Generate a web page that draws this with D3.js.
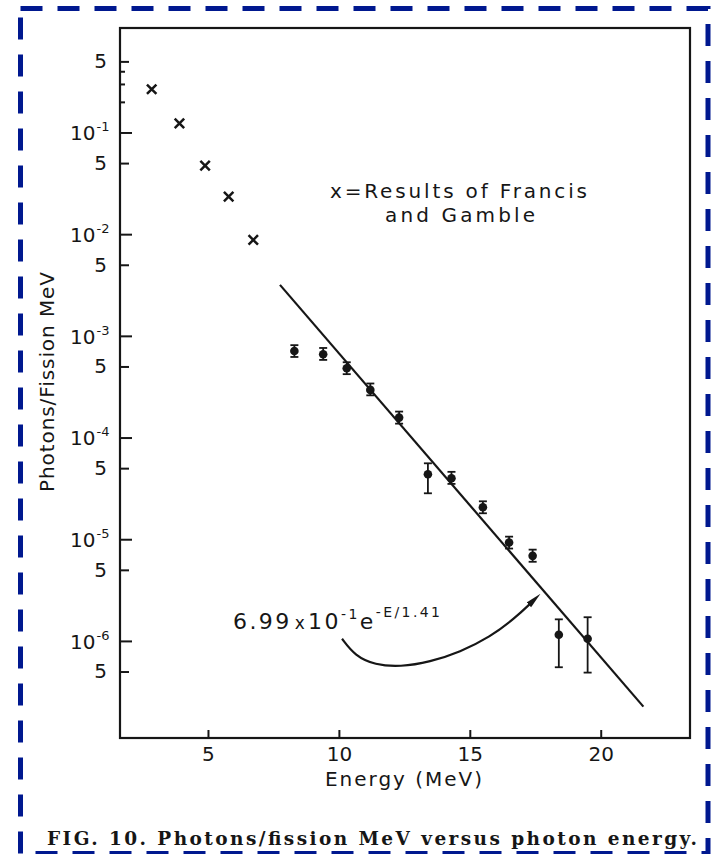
<!DOCTYPE html>
<html>
<head>
<meta charset="utf-8">
<script src="https://cdn.jsdelivr.net/npm/d3@7"></script>
<style>
  html, body { margin: 0; padding: 0; background: #fff; }
  svg { display: block; }
  text { font-family: "DejaVu Sans", sans-serif; fill: #161616; }
</style>
</head>
<body>
<svg id="chart" width="711" height="854"></svg>
<script>
// ---------- data ----------
const crossE = [2.85, 3.91, 4.89, 5.79, 6.73];
const crossV = [0.266, 0.123, 0.0472, 0.0234, 0.00877];

const dotE  = [8.3, 9.4, 10.3, 11.2, 12.3, 13.4, 14.3, 15.5, 16.5, 17.4, 18.4, 19.5];
const dotV  = [7.1e-4, 6.6e-4, 4.8e-4, 2.94e-4, 1.57e-4, 4.36e-5, 3.98e-5, 2.06e-5, 9.27e-6, 6.86e-6, 1.15e-6, 1.05e-6];
const dotHi = [8.1e-4, 7.6e-4, 5.5e-4, 3.4e-4, 1.8e-4, 5.58e-5, 4.6e-5, 2.36e-5, 1.06e-5, 7.9e-6, 1.63e-6, 1.71e-6];
const dotLo = [6.2e-4, 5.8e-4, 4.2e-4, 2.6e-4, 1.37e-4, 2.83e-5, 3.5e-5, 1.8e-5, 8.1e-6, 6.0e-6, 5.51e-7, 4.88e-7];

const fitE = [7.75, 21.63];
const fitV = [3.17e-3, 2.26e-7];

// annotation arrow path (data coordinates)
const arrowE = [10.12, 10.62, 11.38, 12.34, 13.48, 14.63, 15.77, 16.73, 17.34];
const arrowV = [1.05e-6, 7.11e-7, 5.81e-7, 5.55e-7, 6.21e-7, 7.79e-7, 1.09e-6, 1.68e-6, 2.37e-6];

const xTicks = [5, 10, 15, 20];
const xTickLabels = ["5", "10", "15", "20"];
const yMajor = [1e-1, 1e-2, 1e-3, 1e-4, 1e-5, 1e-6];
const yMajorExp = ["-1", "-2", "-3", "-4", "-5", "-6"];
const yFive = [5e-1, 5e-2, 5e-3, 5e-4, 5e-5, 5e-6, 5e-7];
const yMinor = [4e-1, 3e-1, 2e-1];

const xDomain = [1.64, 23.41];
const yDomain = [1.11e-7, 1.065];

// ---------- layout ----------
const svg = d3.select("#chart");
const L = 120, R = 690, T = 28, B = 738;
const ink = "#161616";

const x = d3.scaleLinear().domain(xDomain).range([L, R]);
const y = d3.scaleLog().domain(yDomain).range([B, T]);

// blue dashed border
svg.append("rect")
  .attr("x", 20.5).attr("y", 8.5).attr("width", 687.5).attr("height", 845)
  .attr("fill", "none").attr("stroke", "#00188f").attr("stroke-width", 5)
  .attr("stroke-dasharray", "22 15");

// plot frame
svg.append("rect")
  .attr("x", L).attr("y", T).attr("width", R - L).attr("height", B - T)
  .attr("fill", "none").attr("stroke", ink).attr("stroke-width", 2.2);

// x axis
const gx = svg.append("g").attr("transform", `translate(0,${B})`)
  .call(d3.axisBottom(x).tickValues(xTicks).tickSizeInner(-8).tickSizeOuter(0).tickPadding(9)
    .tickFormat((d, i) => xTickLabels[i]));
gx.select(".domain").remove();
gx.selectAll("line").attr("stroke", ink).attr("stroke-width", 2);
gx.selectAll("text").attr("font-size", 20).attr("font-family", "DejaVu Sans").attr("fill", ink);

// y axis: major ticks
const gyM = svg.append("g").attr("transform", `translate(${L},0)`)
  .call(d3.axisLeft(y).tickValues(yMajor).tickSizeInner(-12).tickSizeOuter(0).tickFormat(""));
gyM.select(".domain").remove();
gyM.selectAll("line").attr("stroke", ink).attr("stroke-width", 2);
gyM.selectAll("text").each(function(d, i) {
  const t = d3.select(this);
  t.attr("text-anchor", "start").attr("x", -50).attr("dy", null).attr("y", 7.3)
   .attr("font-size", 20).attr("fill", ink);
  t.append("tspan").text("10");
  t.append("tspan").attr("font-size", 13).attr("dy", -9).attr("dx", 1).text(yMajorExp[i]);
});

// y axis: "5" ticks
const gy5 = svg.append("g").attr("transform", `translate(${L},0)`)
  .call(d3.axisLeft(y).tickValues(yFive).tickSizeInner(-9).tickSizeOuter(0).tickFormat(() => "5"));
gy5.select(".domain").remove();
gy5.selectAll("line").attr("stroke", ink).attr("stroke-width", 2);
gy5.selectAll("text").attr("x", -13).attr("font-size", 20).attr("fill", ink);

// y axis: minor ticks
const gym = svg.append("g").attr("transform", `translate(${L},0)`)
  .call(d3.axisLeft(y).tickValues(yMinor).tickSizeInner(-5).tickSizeOuter(0).tickFormat(""));
gym.select(".domain").remove();
gym.selectAll("line").attr("stroke", ink).attr("stroke-width", 2);

// fit line
svg.append("path")
  .datum(fitE.map((e, i) => [e, fitV[i]]))
  .attr("d", d3.line().x(d => x(d[0])).y(d => y(d[1])))
  .attr("fill", "none").attr("stroke", ink).attr("stroke-width", 2.2);

// Francis & Gamble crosses
svg.append("g").selectAll("path")
  .data(crossE.map((e, i) => [e, crossV[i]]))
  .join("path")
  .attr("transform", d => `translate(${x(d[0])},${y(d[1])})`)
  .attr("d", d3.symbol(d3.symbolTimes, 60))
  .attr("fill", "none").attr("stroke", ink).attr("stroke-width", 2.5);

// error bars
const eb = svg.append("g").selectAll("g")
  .data(dotE.map((e, i) => ({e, v: dotV[i], hi: dotHi[i], lo: dotLo[i]})))
  .join("g");
eb.append("line")
  .attr("x1", d => x(d.e)).attr("x2", d => x(d.e))
  .attr("y1", d => y(d.hi)).attr("y2", d => y(d.lo))
  .attr("stroke", ink).attr("stroke-width", 1.8);
eb.append("line")
  .attr("x1", d => x(d.e) - 4).attr("x2", d => x(d.e) + 4)
  .attr("y1", d => y(d.hi)).attr("y2", d => y(d.hi))
  .attr("stroke", ink).attr("stroke-width", 1.8);
eb.append("line")
  .attr("x1", d => x(d.e) - 4).attr("x2", d => x(d.e) + 4)
  .attr("y1", d => y(d.lo)).attr("y2", d => y(d.lo))
  .attr("stroke", ink).attr("stroke-width", 1.8);
eb.append("circle")
  .attr("cx", d => x(d.e)).attr("cy", d => y(d.v)).attr("r", 4.3)
  .attr("fill", ink);

// arrow
const defs = svg.append("defs");
defs.append("marker")
  .attr("id", "ah").attr("viewBox", "0 -4 16 8").attr("refX", 3).attr("refY", 0)
  .attr("markerWidth", 16).attr("markerHeight", 8).attr("markerUnits", "userSpaceOnUse")
  .attr("orient", "auto")
  .append("path").attr("d", "M0,-3.2 L16,0 L0,3.2 Z").attr("fill", ink);
svg.append("path")
  .datum(arrowE.map((e, i) => [e, arrowV[i]]))
  .attr("d", d3.line().x(d => x(d[0])).y(d => y(d[1])).curve(d3.curveBasis))
  .attr("fill", "none").attr("stroke", ink).attr("stroke-width", 2.2)
  .attr("marker-end", "url(#ah)");

// formula text
const ft = svg.append("text").attr("x", 233).attr("y", 629).attr("font-size", 22)
  .attr("textLength", 207).attr("fill", ink);
ft.append("tspan").text("6.99");
ft.append("tspan").attr("font-size", 17).attr("dx", 3).text("x");
ft.append("tspan").attr("dx", 1).text("10");
ft.append("tspan").attr("font-size", 14).attr("dy", -10).text("-1");
ft.append("tspan").attr("dy", 10).text("e");
ft.append("tspan").attr("font-size", 14).attr("dy", -12).text("-E/1.41");

// legend note
svg.append("text").attr("x", 330).attr("y", 198).attr("font-size", 20)
  .attr("textLength", 257).attr("fill", ink).text("x=Results of Francis");
svg.append("text").attr("x", 385).attr("y", 222).attr("font-size", 20)
  .attr("textLength", 150).attr("fill", ink).text("and Gamble");

// axis titles
svg.append("text").attr("x", 403.5).attr("y", 786).attr("font-size", 20)
  .attr("text-anchor", "middle").attr("textLength", 157).attr("fill", ink).text("Energy (MeV)");
svg.append("text")
  .attr("transform", "translate(54,382) rotate(-90)")
  .attr("font-size", 20).attr("text-anchor", "middle").attr("textLength", 220)
  .attr("fill", ink).text("Photons/Fission MeV");

// caption
svg.append("text").attr("x", 47).attr("y", 845)
  .style("font-family", "'DejaVu Serif', serif")
  .attr("font-size", 18.5).attr("font-weight", "bold")
  .attr("textLength", 650).attr("fill", "#2a2a2a")
  .text("FIG. 10.  Photons/fission MeV versus photon energy.");
</script>
</body>
</html>
